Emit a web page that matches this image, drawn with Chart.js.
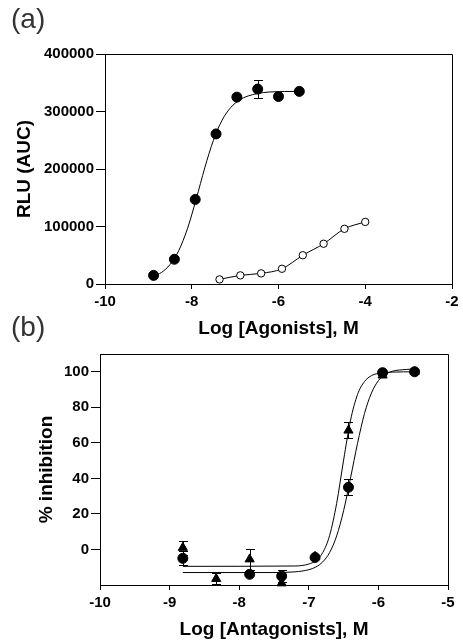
<!DOCTYPE html>
<html>
<head>
<meta charset="utf-8">
<script src="https://cdn.jsdelivr.net/npm/chart.js@4.4.0/dist/chart.umd.min.js"></script>
<style>
    html, body { margin: 0; padding: 0; background: #fff; }
    body { width: 463px; height: 643px; position: relative; overflow: hidden; }
    canvas { position: absolute; left: 0; }
    #chart-a { top: 0; }
    #chart-b { top: 310px; }
</style>
</head>
<body>
<canvas id="chart-a" width="463" height="345"></canvas>
<canvas id="chart-b" width="463" height="333"></canvas>
<script>
// Panel (a) - agonists
const agonistTicksX = [-10, -8, -6, -4, -2];
const agonistTicksY = [0, 100000, 200000, 300000, 400000];

const fullAgonistX = [-8.88, -8.40, -7.92, -7.44, -6.96, -6.48, -6.00, -5.52];
const fullAgonistY = [15000, 43000, 147000, 261000, 325000, 339000, 326000, 335000];
const fullAgonistErr = [0, 0, 0, 0, 0, 15000, 0, 0];
// fitted curve
const fullAgonistFitX = [-8.88, -8.7, -8.5, -8.3, -8.1, -7.9, -7.7, -7.5, -7.3, -7.1, -6.9, -6.7, -6.5, -6.2, -5.52];
const fullAgonistFitY = [14000, 20000, 34000, 58000, 96000, 147000, 202000, 250000, 285000, 307000, 320000, 327000, 331000, 334000, 335000];

const partialAgonistX = [-7.36, -6.88, -6.40, -5.92, -5.44, -4.96, -4.48, -4.00];
const partialAgonistY = [8000, 15000, 18500, 26500, 50000, 70000, 96000, 108000];

// Panel (b) - antagonists
const antagonistTicksX = [-10, -9, -8, -7, -6, -5];
const antagonistTicksY = [0, 20, 40, 60, 80, 100];

const circleX = [-8.81, -7.85, -7.39, -6.91, -6.43, -5.94, -5.48];
const circleY = [-5, -14, -15, -4.5, 35, 99.5, 100];
const circleErr = [4, 0, 3.5, 0, 4.5, 0, 0];

const triangleX = [-8.81, -8.33, -7.85, -7.39, -6.91, -6.43, -5.94, -5.48];
const triangleY = [1, -16.5, -5.5, -19, -4, 67, 98, 100];
const triangleErr = [4, 3, 6, 0, 0, 4.5, 0, 0];

const triangleFitX = [-8.81, -7.2, -7.0, -6.9, -6.8, -6.7, -6.6, -6.5, -6.4, -6.3, -6.2, -6.1, -6.0, -5.8, -5.48];
const triangleFitY = [-9.5, -9.3, -8.2, -6.3, -1.8, 8.0, 25.9, 50.3, 72.8, 87.2, 94.5, 97.8, 99.1, 99.8, 100];

const circleFitX = [-8.81, -7.5, -7.2, -7.0, -6.9, -6.8, -6.7, -6.6, -6.5, -6.4, -6.3, -6.2, -6.1, -6.0, -5.9, -5.8, -5.6, -5.48];
const circleFitY = [-13, -13, -12.6, -11.4, -9.9, -7.0, -1.7, 7.6, 21.8, 40.3, 59.7, 76.5, 88, 95, 98.5, 100.3, 101.3, 101.6];

const tickFont = { family: 'Liberation Sans, Arial, sans-serif', size: 15, weight: 'bold' };
const titleFont = { family: 'Liberation Sans, Arial, sans-serif', size: 19, weight: 'bold' };

function toPoints(xs, ys) {
    return xs.map((x, i) => ({ x: x, y: ys[i] }));
}

// error bars drawn under the markers, through the chart scales
const errorBars = {
    id: 'errorBars',
    beforeDatasetsDraw(chart) {
        const { ctx, scales } = chart;
        ctx.save();
        ctx.strokeStyle = '#000';
        ctx.lineWidth = 1;
        chart.data.datasets.forEach(ds => {
            if (!ds.errors) return;
            ds.data.forEach((p, i) => {
                const err = ds.errors[i];
                if (!err) return;
                const px = Math.round(scales.x.getPixelForValue(p.x)) + 0.5;
                const top = Math.round(scales.y.getPixelForValue(p.y + err)) + 0.5;
                const bot = Math.round(scales.y.getPixelForValue(p.y - err)) + 0.5;
                ctx.beginPath();
                ctx.moveTo(px, top);
                ctx.lineTo(px, bot);
                ctx.moveTo(px - 4.5, top);
                ctx.lineTo(px + 4.5, top);
                ctx.moveTo(px - 4.5, bot);
                ctx.lineTo(px + 4.5, bot);
                ctx.stroke();
            });
        });
        ctx.restore();
    }
};

// closed box round the plot + panel letter
const frame = {
    id: 'frame',
    afterDraw(chart, args, opts) {
        const { ctx, chartArea } = chart;
        ctx.save();
        ctx.strokeStyle = '#000';
        ctx.lineWidth = 1;
        ctx.beginPath();
        ctx.moveTo(Math.round(chartArea.left) + 0.5, Math.round(chartArea.top) + 0.5);
        ctx.lineTo(Math.round(chartArea.right) + 0.5, Math.round(chartArea.top) + 0.5);
        ctx.lineTo(Math.round(chartArea.right) + 0.5, Math.round(chartArea.bottom) + 0.5);
        ctx.stroke();
        ctx.fillStyle = '#333';
        ctx.font = '28px "Liberation Sans", Arial, sans-serif';
        ctx.textBaseline = 'alphabetic';
        ctx.fillText(opts.text, 11, opts.baseline);
        ctx.restore();
    }
};

function makeAxis(opts) {
    return {
        type: 'linear',
        min: opts.min,
        max: opts.max,
        afterBuildTicks: scale => { scale.ticks = opts.ticks.map(v => ({ value: v })); },
        afterFit: scale => {
            if (opts.width) scale.width = opts.width;
            if (opts.height) scale.height = opts.height;
        },
        grid: { drawOnChartArea: false, drawTicks: true, tickLength: opts.tickLength, color: '#000', lineWidth: 1 },
        border: { display: true, color: '#000', width: 1 },
        ticks: {
            color: '#000',
            font: tickFont,
            padding: opts.padding,
            maxRotation: 0,
            autoSkip: false,
            callback: v => String(v)
        },
        title: { display: true, text: opts.title, color: '#000', font: titleFont, padding: opts.titlePadding }
    };
}

const baseOptions = {
    responsive: false,
    animation: false,
    events: [],
    devicePixelRatio: 1,
    plugins: { legend: { display: false }, tooltip: { enabled: false } }
};

new Chart(document.getElementById('chart-a'), {
    type: 'scatter',
    data: {
        datasets: [
            {
                data: toPoints(fullAgonistX, fullAgonistY),
                errors: fullAgonistErr,
                pointRadius: 5,
                pointBorderWidth: 1,
                pointBackgroundColor: '#000',
                pointBorderColor: '#000',
                clip: false,
                order: 1
            },
            {
                data: toPoints(partialAgonistX, partialAgonistY),
                showLine: true,
                borderColor: '#000',
                borderWidth: 1,
                cubicInterpolationMode: 'monotone',
                pointRadius: 3.7,
                pointBorderWidth: 1,
                pointBackgroundColor: '#fff',
                pointBorderColor: '#000',
                clip: false,
                order: 2
            },
            {
                data: toPoints(fullAgonistFitX, fullAgonistFitY),
                showLine: true,
                borderColor: '#000',
                borderWidth: 1,
                cubicInterpolationMode: 'monotone',
                pointRadius: 0,
                order: 3
            }
        ]
    },
    options: {
        ...baseOptions,
        layout: { padding: { left: 0, right: 11, top: 54, bottom: 0 } },
        scales: {
            x: makeAxis({ min: -10, max: -2, ticks: agonistTicksX, height: 61, tickLength: 5, padding: 4,
                title: 'Log [Agonists], M', titlePadding: { top: 0, bottom: 5 } }),
            y: makeAxis({ min: 0, max: 400000, ticks: agonistTicksY, width: 105, tickLength: 9, padding: 2,
                title: 'RLU (AUC)', titlePadding: { top: 13, bottom: 0 } })
        },
        plugins: { ...baseOptions.plugins, frame: { text: '(a)', baseline: 28 } }
    },
    plugins: [errorBars, frame]
});

new Chart(document.getElementById('chart-b'), {
    type: 'scatter',
    data: {
        datasets: [
            {
                data: toPoints(circleX, circleY),
                errors: circleErr,
                pointRadius: 5,
                pointBorderWidth: 1,
                pointBackgroundColor: '#000',
                pointBorderColor: '#000',
                clip: false,
                order: 1
            },
            {
                data: toPoints(triangleX, triangleY),
                errors: triangleErr,
                pointStyle: 'triangle',
                pointRadius: 5.3,
                pointBorderWidth: 1,
                pointBackgroundColor: '#000',
                pointBorderColor: '#000',
                clip: false,
                order: 2
            },
            {
                data: toPoints(triangleFitX, triangleFitY),
                showLine: true,
                borderColor: '#000',
                borderWidth: 1,
                cubicInterpolationMode: 'monotone',
                pointRadius: 0,
                order: 3
            },
            {
                data: toPoints(circleFitX, circleFitY),
                showLine: true,
                borderColor: '#000',
                borderWidth: 1,
                cubicInterpolationMode: 'monotone',
                pointRadius: 0,
                order: 4
            }
        ]
    },
    options: {
        ...baseOptions,
        layout: { padding: { left: 0, right: 15, top: 44, bottom: 0 } },
        scales: {
            x: makeAxis({ min: -10, max: -5, ticks: antagonistTicksX, height: 58, tickLength: 5, padding: 4,
                title: 'Log [Antagonists], M', titlePadding: { top: 0, bottom: 2 } }),
            y: makeAxis({ min: -20, max: 110, ticks: antagonistTicksY, width: 100, tickLength: 9, padding: 2,
                title: '% inhibition', titlePadding: { top: 35, bottom: 0 } })
        },
        plugins: { ...baseOptions.plugins, frame: { text: '(b)', baseline: 26 } }
    },
    plugins: [errorBars, frame]
});
</script>
</body>
</html>
